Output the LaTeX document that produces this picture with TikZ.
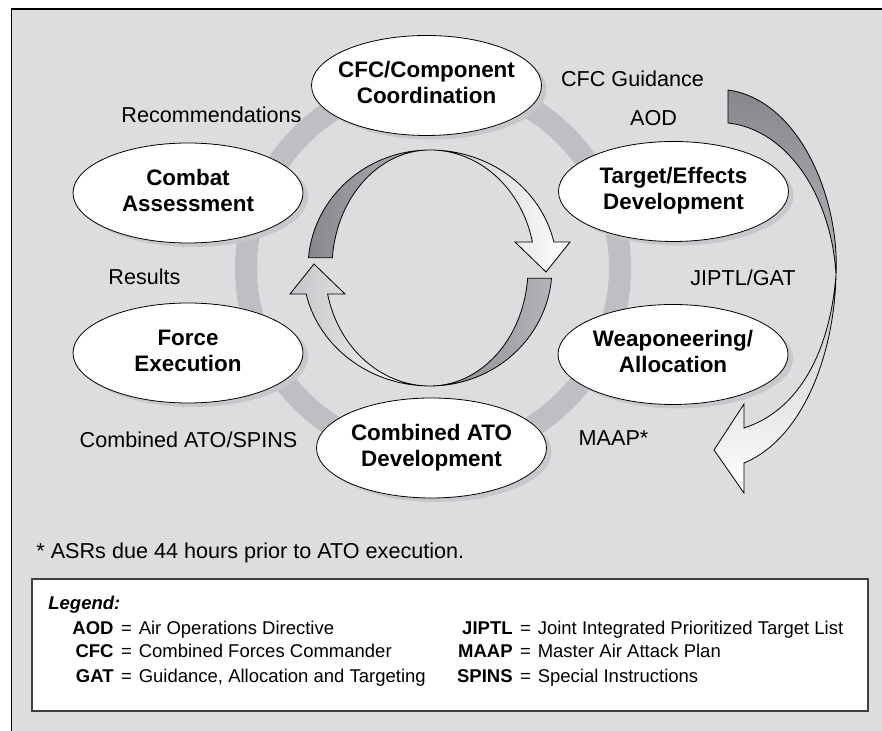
\documentclass[tikz,border=0pt]{standalone}
\usepackage{fontspec}
\setmainfont{Liberation Sans}
\usepackage{tikz}
\usetikzlibrary{shapes.geometric, shadows, positioning}
\definecolor{panel}{RGB}{220,221,223}
\definecolor{ringgray}{RGB}{190,191,194}
\definecolor{shadowgray}{RGB}{199,200,203}
\definecolor{arrowdark}{RGB}{135,136,139}
\definecolor{arrowmid}{RGB}{180,181,184}
\definecolor{arrowlight}{RGB}{196,197,200}
\newcommand{\phasefont}{\fontsize{11.2}{13}\selectfont\bfseries}
\newcommand{\flowfont}{\fontsize{10.8}{13}\selectfont}
\newcommand{\keyfont}{\fontsize{9.25}{12}\selectfont}
\newcommand{\phasetext}[1]{\makebox[0pt]{\begin{tabular}{@{}c@{}}#1\end{tabular}}}
\tikzstyle{phasebox} = [ellipse, draw=black, thin, fill=white, minimum width=115pt, minimum height=50pt, inner sep=0pt, font=\phasefont, drop shadow={shadow xshift=2.5pt, shadow yshift=-2pt, fill=shadowgray, opacity=1}]
\tikzstyle{flowlabel} = [font=\flowfont, inner sep=0pt, anchor=base]
\tikzstyle{abbr} = [font=\keyfont\bfseries, inner sep=0pt, anchor=base east]
\tikzstyle{meaning} = [font=\keyfont, inner sep=0pt]
\tikzstyle{ribbon} = [draw=black, thin]

\begin{document}
\begin{tikzpicture}[x=0.5pt, y=0.5pt]
    \useasboundingbox (0,0) rectangle (882,731);
    \fill[panel] (12,0) rectangle (882,721);
    \draw[line width=0.75pt] (11.5,0) -- (11.5,722);
    \draw[line width=1.25pt] (11,722) -- (882,722);

    % cycle ring
    \draw[ringgray, line width=11pt] (433,463) circle[radius=187];

    % inner arrows
    \begin{scope}[shift={(430,463)}]
        \path[ribbon, left color=arrowdark, right color=arrowmid] (0,118) arc[start angle=90, end angle=175, x radius=122, y radius=118] -- (175:98 and 118) arc[start angle=175, end angle=90, x radius=98, y radius=118] -- cycle;
        \path[ribbon, left color=arrowlight, right color=white] (0,118) arc[start angle=90, end angle=12.7, x radius=127, y radius=118] -- (140,26) -- (116,-4) -- (85,26) -- (12.7:105 and 118) arc[start angle=12.7, end angle=90, x radius=105, y radius=118] -- cycle;
    \end{scope}
    \begin{scope}[shift={(430,463)}, rotate=180]
        \path[ribbon, left color=arrowdark, right color=arrowmid] (0,118) arc[start angle=90, end angle=175, x radius=122, y radius=118] -- (175:98 and 118) arc[start angle=175, end angle=90, x radius=98, y radius=118] -- cycle;
        \path[ribbon, left color=arrowlight, right color=white] (0,118) arc[start angle=90, end angle=12.7, x radius=127, y radius=118] -- (140,26) -- (116,-4) -- (85,26) -- (12.7:105 and 118) arc[start angle=12.7, end angle=90, x radius=105, y radius=118] -- cycle;
    \end{scope}

    % outer arrow
    \path[ribbon, top color=arrowdark, bottom color=arrowmid] (728,641) .. controls (800,631) and (840,531) .. (836,456) .. controls (832,531) and (790,601) .. (728,608) -- cycle;
    \path[ribbon, top color=arrowlight, bottom color=white] (836,456) .. controls (834,371) and (800,291) .. (744,268) -- (744,238) -- (714,281) -- (744,327) -- (744,303) .. controls (800,321) and (830,381) .. (836,456) -- cycle;

    \node[phasebox] (coord) at (426.5,645.5) {\phasetext{CFC/Component\\Coordination}};
    \node[phasebox] (target) at (673.5,539.5) {\phasetext{Target/Effects\\Development}};
    \node[phasebox] (weapon) at (673,376.5) {\phasetext{Weaponeering/\\Allocation}};
    \node[phasebox] (ato) at (431.5,283) {\phasetext{Combined ATO\\Development}};
    \node[phasebox] (force) at (188,378) {\phasetext{Force\\Execution}};
    \node[phasebox] (combat) at (188,538) {\phasetext{Combat\\Assessment}};

    \node[flowlabel] (recs) at (211.5,608) {Recommendations};
    \node[flowlabel] (results) at (144.5,446) {Results};
    \node[flowlabel] (atospins) at (188.5,283) {Combined ATO/SPINS};
    \node[flowlabel] (guidance) at (632.5,644) {CFC Guidance};
    \node[flowlabel] (aod) at (653.5,605) {AOD};
    \node[flowlabel] (jiptl) at (743,445) {JIPTL/GAT};
    \node[flowlabel] (maap) at (613.5,285) {MAAP*};
    \node[flowlabel, anchor=base west] (note) at (36,172) {* ASRs due 44 hours prior to ATO execution.};

    % legend
    \draw[draw=black!75, line width=0.6pt, fill=white] (32,20) rectangle (868,152);
    \node[meaning, font=\keyfont\bfseries\itshape, anchor=base west] (legend) at (48,121) {Legend:};
    \node[abbr] (aod-key) at (114,96) {AOD};
    \node[abbr] (cfc-key) at (114,73) {CFC};
    \node[abbr] (gat-key) at (114,48) {GAT};
    \node[meaning, base right=0pt of aod-key] (aod-text) {\hspace{3.4pt}=\hspace{3.4pt}Air Operations Directive};
    \node[meaning, base right=0pt of cfc-key] (cfc-text) {\hspace{3.4pt}=\hspace{3.4pt}Combined Forces Commander};
    \node[meaning, base right=0pt of gat-key] (gat-text) {\hspace{3.4pt}=\hspace{3.4pt}Guidance, Allocation and Targeting};
    \node[abbr] (jiptl-key) at (513,96) {JIPTL};
    \node[abbr] (maap-key) at (513,73) {MAAP};
    \node[abbr] (spins-key) at (513,48) {SPINS};
    \node[meaning, base right=0pt of jiptl-key] (jiptl-text) {\hspace{3.4pt}=\hspace{3.4pt}Joint Integrated Prioritized Target List};
    \node[meaning, base right=0pt of maap-key] (maap-text) {\hspace{3.4pt}=\hspace{3.4pt}Master Air Attack Plan};
    \node[meaning, base right=0pt of spins-key] (spins-text) {\hspace{3.4pt}=\hspace{3.4pt}Special Instructions};
\end{tikzpicture}
\end{document}
